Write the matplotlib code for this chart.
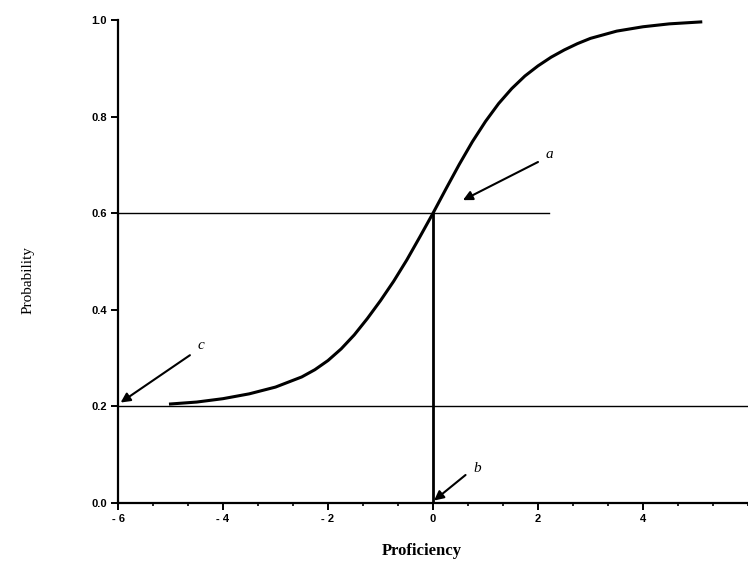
import matplotlib
matplotlib.use("Agg")
import matplotlib.pyplot as plt
from matplotlib.ticker import MultipleLocator

# Item characteristic curve
proficiency = [-5.0, -4.5, -4.0, -3.5, -3.0, -2.5, -2.25, -2.0, -1.75, -1.5, -1.25,
               -1.0, -0.75, -0.5, -0.25, 0.0, 0.25, 0.5, 0.75, 1.0, 1.25, 1.5,
               1.75, 2.0, 2.25, 2.5, 2.75, 3.0, 3.5, 4.0, 4.5, 5.1]
probability = [0.205, 0.209, 0.216, 0.226, 0.240, 0.261, 0.276, 0.295, 0.319, 0.348, 0.382,
               0.419, 0.459, 0.503, 0.551, 0.600, 0.651, 0.701, 0.748, 0.790, 0.827, 0.858,
               0.884, 0.905, 0.923, 0.938, 0.951, 0.962, 0.977, 0.986, 0.992, 0.996]

x_ticks = [-6, -4, -2, 0, 2, 4]
x_tick_labels = ["- 6", "- 4", "- 2", "0", "2", "4"]
y_ticks = [0.0, 0.2, 0.4, 0.6, 0.8, 1.0]
y_tick_labels = ["0.0", "0.2", "0.4", "0.6", "0.8", "1.0"]

guess_c = 0.2          # lower asymptote
difficulty_b = 0.0     # location
p_at_b = 0.6
line_06_end = 2.2

fig = plt.figure(figsize=(7.48, 5.63), dpi=100)
ax = fig.add_axes([118/748, 60/563, 1 - 118/748, (503 - 20)/563])

ax.set_xlim(-6, 6)
ax.set_ylim(0, 1.0)

# curve
ax.plot(proficiency, probability, color="black", lw=2.2, solid_joinstyle="round", zorder=3)

# reference lines
ax.plot([-6, line_06_end], [p_at_b, p_at_b], color="black", lw=1.0)
ax.plot([-6, 6], [guess_c, guess_c], color="black", lw=1.0)
ax.plot([difficulty_b, difficulty_b], [0, p_at_b], color="black", lw=2.0)

# arrows + labels
ap = dict(arrowstyle="-|>", color="black", lw=1.5, mutation_scale=14, shrinkA=0, shrinkB=0)
ax.annotate("", xy=(0.57, 0.627), xytext=(2.0, 0.706), arrowprops=ap)
ax.text(2.22, 0.722, "a", fontsize=11, style="italic", family="Liberation Serif", ha="center", va="center")
ax.annotate("", xy=(-5.95, 0.208), xytext=(-4.63, 0.306), arrowprops=ap)
ax.text(-4.42, 0.327, "c", fontsize=11, style="italic", family="Liberation Serif", ha="center", va="center")
ax.annotate("", xy=(0.02, 0.005), xytext=(0.62, 0.058), arrowprops=ap)
ax.text(0.85, 0.072, "b", fontsize=11, style="italic", family="Liberation Serif", ha="center", va="center")

# spines
for s in ["top", "right"]:
    ax.spines[s].set_visible(False)
ax.spines["left"].set_linewidth(1.6)
ax.spines["bottom"].set_linewidth(1.6)
ax.spines["left"].set_bounds(0, 1.0)

ax.set_xticks(x_ticks)
ax.set_xticklabels(x_tick_labels)
ax.xaxis.set_minor_locator(MultipleLocator(2/3))
ax.set_yticks(y_ticks)
ax.set_yticklabels(y_tick_labels)
ax.tick_params(axis="both", which="major", direction="out", length=5, width=1.4,
               labelsize=8, pad=3)
ax.tick_params(axis="x", which="minor", direction="out", length=2.5, width=1.2)
for lab in ax.get_xticklabels() + ax.get_yticklabels():
    lab.set_family("Liberation Sans")
    lab.set_fontweight("bold")

fig.text(28/748, 1 - 280/563, "Probability", rotation=90, ha="center", va="center",
         fontsize=11, family="Liberation Serif")
fig.text(422/748, 1 - 551/563, "Proficiency", ha="center", va="center",
         fontsize=12, fontweight="bold", family="Liberation Serif")

fig.savefig("out.png", dpi=100)
